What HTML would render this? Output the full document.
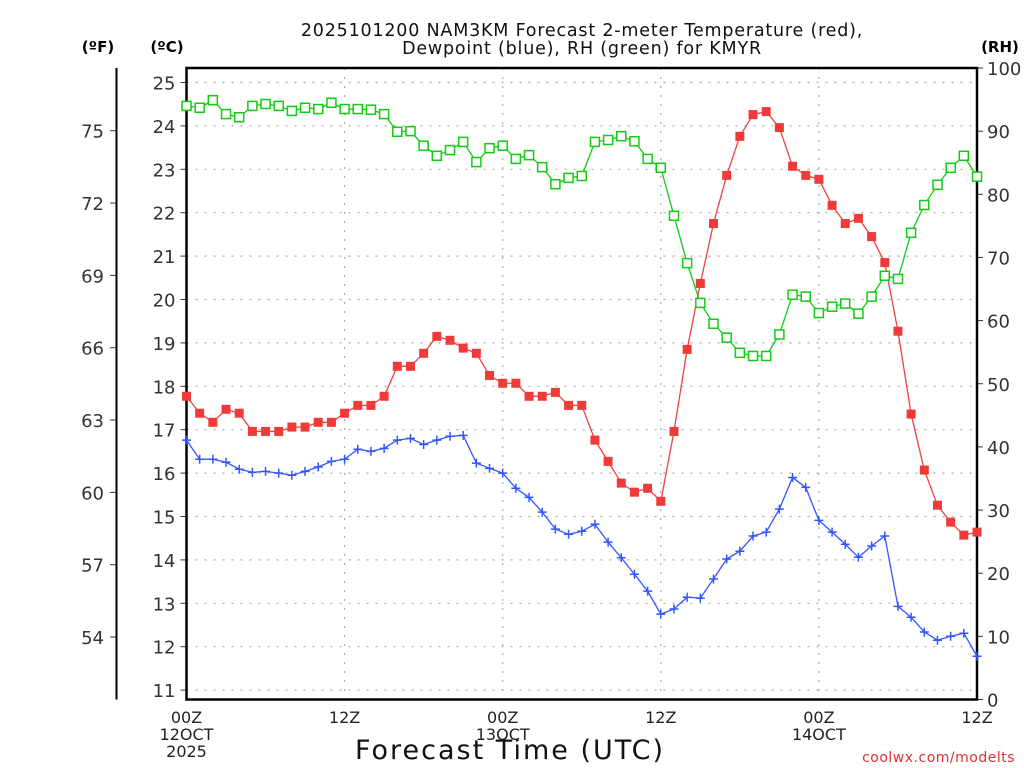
<!DOCTYPE html>
<html><head><meta charset="utf-8"><style>
html,body{margin:0;padding:0;background:#fff;width:1024px;height:768px;overflow:hidden}
svg{display:block;font-family:"DejaVu Sans","Liberation Sans",sans-serif}
</style></head><body>
<svg id="chart" width="1024" height="768" viewBox="0 0 1024 768" xmlns="http://www.w3.org/2000/svg">
<text x="582" y="36" text-anchor="middle" font-size="17.5" letter-spacing="0.8" fill="#111">2025101200 NAM3KM Forecast 2-meter Temperature (red),</text>
<text x="582" y="54" text-anchor="middle" font-size="17.5" letter-spacing="0.8" fill="#111">Dewpoint (blue), RH (green) for KMYR</text>
<text x="98" y="52" text-anchor="middle" font-size="15" font-weight="bold">(ºF)</text>
<text x="167" y="52" text-anchor="middle" font-size="15" font-weight="bold">(ºC)</text>
<text x="1000" y="52" text-anchor="middle" font-size="15" font-weight="bold">(RH)</text>
<text x="510" y="759" text-anchor="middle" font-size="27" letter-spacing="2" fill="#111">Forecast Time (UTC)</text>
<text x="1015" y="762" text-anchor="end" font-size="14" letter-spacing="0.5" fill="#e03030">coolwx.com/modelts</text>
<g id="grid"></g><g id="axes"></g><g id="series"></g>
</svg>
<script>
const hours = Array.from({length:61},(_,i)=>i);
const tempC = [17.77,17.38,17.17,17.47,17.38,16.96,16.96,16.96,17.06,17.06,17.17,17.17,17.38,17.56,17.56,17.77,18.46,18.46,18.76,19.15,19.06,18.88,18.76,18.25,18.07,18.07,17.77,17.77,17.86,17.56,17.56,16.76,16.27,15.77,15.56,15.65,15.35,16.96,18.85,20.37,21.75,22.86,23.76,24.26,24.33,23.96,23.07,22.86,22.77,22.17,21.75,21.87,21.45,20.85,19.27,17.36,16.07,15.26,14.87,14.57,14.64];
const dewC = [16.76,16.32,16.32,16.25,16.09,16.02,16.04,16.00,15.95,16.04,16.14,16.27,16.32,16.55,16.50,16.57,16.76,16.80,16.66,16.76,16.85,16.87,16.23,16.11,16.00,15.65,15.44,15.10,14.71,14.59,14.66,14.82,14.41,14.05,13.67,13.28,12.75,12.87,13.14,13.12,13.56,14.02,14.20,14.55,14.64,15.17,15.90,15.67,14.91,14.64,14.36,14.06,14.32,14.55,12.93,12.68,12.34,12.15,12.24,12.31,11.78];
const rh = [94.0,93.7,94.9,92.7,92.2,94.0,94.3,94.0,93.2,93.7,93.5,94.5,93.5,93.5,93.4,92.7,89.9,90.0,87.7,86.1,87.0,88.3,85.1,87.3,87.7,85.6,86.2,84.3,81.6,82.6,82.9,88.3,88.6,89.2,88.4,85.6,84.2,76.6,69.1,62.8,59.5,57.3,54.9,54.4,54.4,57.8,64.1,63.8,61.2,62.2,62.7,61.1,63.8,67.1,66.6,73.9,78.3,81.5,84.2,86.1,82.8];
const celsiusTicks = [11,12,13,14,15,16,17,18,19,20,21,22,23,24,25];
const fahrenheitTicks = [54,57,60,63,66,69,72,75];
const rhTicks = [0,10,20,30,40,50,60,70,80,90,100];
const timeTickHours = [0,12,24,36,48,60];
const timeTickLabels = ["00Z","12Z","00Z","12Z","00Z","12Z"];
const dateLabels = {0:["12OCT","2025"],24:["13OCT"],48:["14OCT"]};

const L=186.5,R=977,T=68,B=699.5;
const xS=h=>L+(R-L)*h/60;
const yC=c=>82.5+(25-c)*43.4;
const yF=f=>yC((f-32)*5/9);
const yRH=v=>B-(B-T)*v/100;
const NS="http://www.w3.org/2000/svg";
function mk(tag,attrs,parent,text){const e=document.createElementNS(NS,tag);for(const k in attrs)e.setAttribute(k,attrs[k]);if(text!==undefined)e.textContent=text;parent.appendChild(e);return e;}
const grid=document.getElementById('grid'),axes=document.getElementById('axes'),ser=document.getElementById('series');

celsiusTicks.forEach(c=>{const y=yC(c);
 const g=mk('line',{x1:L,x2:R,y1:y,y2:y,stroke:'#aaa','stroke-width':1.2,'stroke-dasharray':'2 7'},grid);
 
 
 const t=mk('line',{x1:L-6,x2:L,y1:y,y2:y,stroke:'#333','stroke-width':1},axes);
 
 
 const lb=mk('text',{x:L-11,y:y+7,'text-anchor':'end','font-size':18,fill:'#333'},axes,String(c));
 
 
});
timeTickHours.forEach((h,i)=>{const x=xS(h);
 if(h>0&&h<60){const g=mk('line',{x1:x,x2:x,y1:T,y2:B,stroke:'#aaa','stroke-width':1.2,'stroke-dasharray':'2 7'},grid);
 
 }
 const lb=mk('text',{x:x,y:723,'text-anchor':'middle','font-size':16,fill:'#222'},axes,timeTickLabels[i]);
 
 
 (dateLabels[h]||[]).forEach((d,j)=>{const dl=mk('text',{x:x,y:740+j*17,'text-anchor':'middle','font-size':16,fill:'#222'},axes,d);
 
 });
});
const fl=mk('line',{x1:116.5,x2:116.5,y1:T,y2:B,stroke:'#000','stroke-width':2},axes);


fahrenheitTicks.forEach(f=>{const y=yF(f);
 const t=mk('line',{x1:110,x2:116,y1:y,y2:y,stroke:'#333','stroke-width':1},axes);
 
 
 const lb=mk('text',{x:104,y:y+7,'text-anchor':'end','font-size':18,fill:'#333'},axes,String(f));
 
 
});
rhTicks.forEach(v=>{const y=yRH(v);
 const t=mk('line',{x1:R,x2:R+6,y1:y,y2:y,stroke:'#333','stroke-width':1},axes);
 
 
 const lb=mk('text',{x:R+10,y:y+7,'text-anchor':'start','font-size':18,fill:'#333'},axes,String(v));
 
 
});
const fr=mk('rect',{x:L,y:T,width:R-L,height:B-T,fill:'none',stroke:'#000','stroke-width':2.5},axes);



function line(vals,yf,color,name){
 const p=mk('polyline',{points:vals.map((v,i)=>xS(hours[i])+','+yf(v)).join(' '),fill:'none',stroke:color,'stroke-width':1.3},ser);
 
 
}
line(rh,yRH,'#11cc11','rh-line');
line(tempC,yC,'#f04040','temperature-line');
line(dewC,yC,'#3355ff','dewpoint-line');
rh.forEach((v,i)=>{const m=mk('rect',{x:xS(hours[i])-4.5,y:yRH(v)-4.5,width:9,height:9,fill:'#fff',stroke:'#11cc11','stroke-width':1.5},ser);
 
 });
tempC.forEach((v,i)=>{const m=mk('rect',{x:xS(hours[i])-4.5,y:yC(v)-4.5,width:9,height:9,fill:'#f03a3a'},ser);
 
 });
dewC.forEach((v,i)=>{const x=xS(hours[i]),y=yC(v);
 const m=mk('path',{d:`M${x-4.5} ${y}H${x+4.5}M${x} ${y-4.5}V${y+4.5}`,stroke:'#3355ff','stroke-width':1.5},ser);
 
 });
</script>
</body></html>
